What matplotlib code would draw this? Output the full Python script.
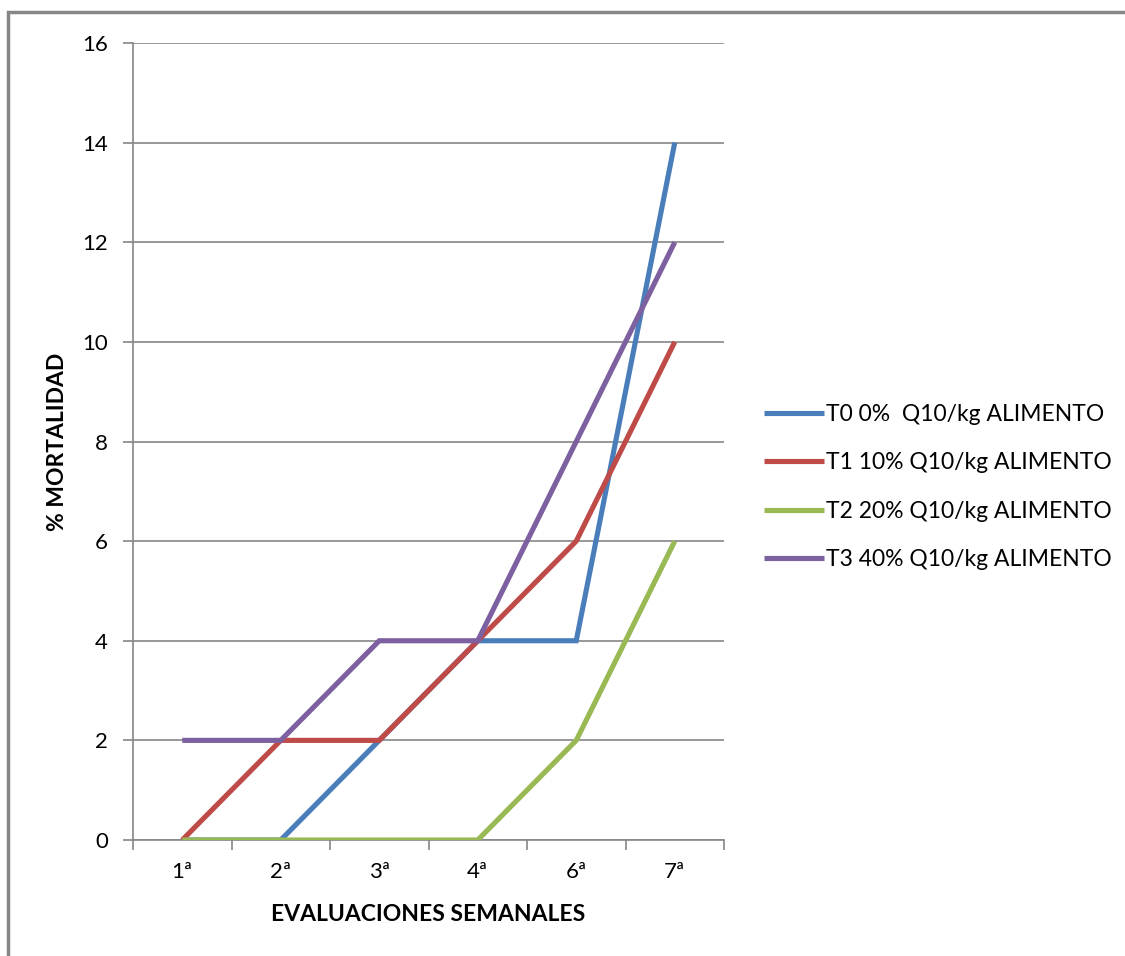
import matplotlib
matplotlib.use("Agg")
import matplotlib.pyplot as plt
from matplotlib.patches import Rectangle
import numpy as np

plt.rcParams['font.family'] = ['Lato', 'DejaVu Sans']

semanas = ["1ª", "2ª", "3ª", "4ª", "6ª", "7ª"]
t0 = [0, 0, 2, 4, 4, 14]
t1 = [0, 2, 2, 4, 6, 10]
t2 = [0, 0, 0, 0, 2, 6]
t3 = [2, 2, 4, 4, 8, 12]
etiquetas = ["T0 0%  Q10/kg ALIMENTO", "T1 10% Q10/kg ALIMENTO",
             "T2 20% Q10/kg ALIMENTO", "T3 40% Q10/kg ALIMENTO"]
colores = ["#4a7ebb", "#be4b48", "#98b954", "#7d60a0"]
yticks = [0, 2, 4, 6, 8, 10, 12, 14, 16]

W, H = 1125, 956
fig = plt.figure(figsize=(W / 100, H / 100), dpi=100)
fig.patch.set_facecolor("white")
ax = fig.add_axes([133 / W, 1 - 840 / H, (724 - 133) / W, (840 - 43) / H])

gris = "#868686"
x = np.arange(len(semanas))
for serie, lab, col in zip([t0, t1, t2, t3], etiquetas, colores):
    ax.plot(x, serie, color=col, lw=3.7, label=lab, solid_capstyle="butt",
            solid_joinstyle="miter", zorder=3)

ax.set_xlim(-0.5, len(semanas) - 0.5)
ax.set_ylim(0, 16)
ax.set_yticks(yticks)
ax.set_yticklabels([str(v) for v in yticks], fontsize=16)
ax.set_xticks(x)
ax.set_xticklabels(semanas, fontsize=16)
ax.set_xticks(np.arange(-0.5, len(semanas)), minor=True)
ax.tick_params(axis="x", which="major", length=0, pad=16)
ax.tick_params(axis="x", which="minor", length=7, width=1.2, color=gris, direction="out")
ax.tick_params(axis="y", length=7, width=1.2, color=gris, pad=11)

ax.grid(axis="y", color=gris, lw=1.2, zorder=0)
ax.set_axisbelow(True)
for side in ["top", "right"]:
    ax.spines[side].set_visible(False)
for side in ["left", "bottom"]:
    ax.spines[side].set_color(gris)
    ax.spines[side].set_linewidth(1.2)

ax.set_xlabel("EVALUACIONES SEMANALES", fontsize=16.5, fontweight="bold", labelpad=16)
ax.set_ylabel("% MORTALIDAD", fontsize=16.5, fontweight="bold", labelpad=10)

fig.legend(loc="center left", bbox_to_anchor=(755 / W, 1 - 487 / H), frameon=False,
           fontsize=16.5, handlelength=2.6, handletextpad=0.08, labelspacing=1.2,
           borderaxespad=0)

# marco exterior del gráfico
fig.patches.append(Rectangle((8 / W, -0.1), 1.2, 1.1 - 12 / H, transform=fig.transFigure,
                             fill=False, edgecolor=gris, lw=2.5))

fig.savefig("out.png", dpi=100, facecolor="white")
